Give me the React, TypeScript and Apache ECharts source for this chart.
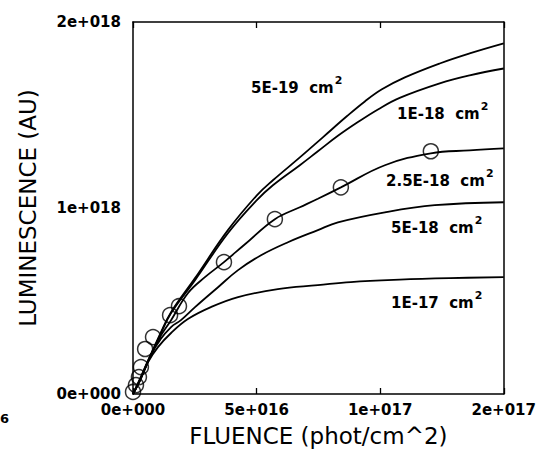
import React, { useEffect, useRef } from "react";
import * as echarts from "echarts";

// Tick values / labels (x axis: the original plot labels 1.5e17 as "2e+017")
const xTickLabels = ["0e+000", "5e+016", "1e+017", "2e+017"];
const yTickLabels = ["0e+000", "1e+018", "2e+018"];

const curveNames = ["5E-19", "1E-18", "2.5E-18", "5E-18", "1E-17"];

const curve5e19: [number, number][] = [
  [0, 0], [0.28e16, 0.75e17], [0.69e16, 2.0e17], [1.09e16, 3.2e17], [1.54e16, 4.4e17],
  [2.51e16, 6.23e17], [3.84e16, 8.81e17], [5.01e16, 10.68e17], [5.66e16, 11.49e17],
  [6.75e16, 12.72e17], [7.68e16, 13.8e17], [8.65e16, 14.93e17], [9.38e16, 15.73e17],
  [10.07e16, 16.38e17], [11.0e16, 17.02e17], [12.41e16, 17.77e17], [13.62e16, 18.31e17],
  [15.0e16, 18.85e17],
];
const curve1e18: [number, number][] = [
  [0, 0], [0.28e16, 0.75e17], [0.69e16, 2.0e17], [1.09e16, 3.15e17], [1.54e16, 4.35e17],
  [2.51e16, 6.12e17], [3.84e16, 8.64e17], [5.01e16, 10.42e17], [5.66e16, 11.22e17],
  [6.75e16, 12.3e17], [7.48e16, 13.05e17], [8.29e16, 13.88e17], [9.1e16, 14.62e17],
  [9.91e16, 15.3e17], [10.79e16, 15.92e17], [12.41e16, 16.7e17], [13.62e16, 17.13e17],
  [15.0e16, 17.5e17],
];
const curve25e18: [number, number][] = [
  [0, 0], [0.28e16, 0.81e17], [0.69e16, 2.04e17], [1.09e16, 3.06e17], [1.54e16, 3.97e17],
  [2.22e16, 5.42e17], [2.91e16, 6.28e17], [3.68e16, 7.09e17], [4.53e16, 8.05e17],
  [5.74e16, 9.4e17], [6.75e16, 10.04e17], [7.48e16, 10.5e17], [8.41e16, 11.11e17],
  [10.19e16, 12.3e17], [12.05e16, 12.94e17], [13.62e16, 13.1e17], [15.0e16, 13.21e17],
];
const curve5e18: [number, number][] = [
  [0, 0], [0.28e16, 0.75e17], [0.69e16, 1.99e17], [1.09e16, 2.9e17], [1.54e16, 3.6e17],
  [1.94e16, 3.97e17], [2.51e16, 4.67e17], [3.44e16, 5.74e17], [4.25e16, 6.66e17],
  [5.18e16, 7.46e17], [6.27e16, 8.16e17], [7.48e16, 8.81e17], [8.29e16, 9.23e17],
  [10.19e16, 9.77e17], [12.21e16, 10.15e17], [15.0e16, 10.31e17],
];
const curve1e17: [number, number][] = [
  [0, 0], [0.28e16, 0.7e17], [0.61e16, 1.72e17], [1.01e16, 2.52e17], [1.54e16, 3.28e17],
  [2.22e16, 4.03e17], [3.15e16, 4.67e17], [4.25e16, 5.21e17], [5.86e16, 5.64e17],
  [7.48e16, 5.85e17], [8.81e16, 6.02e17], [10.79e16, 6.15e17], [12.82e16, 6.23e17],
  [15.0e16, 6.28e17],
];

const measured: [number, number][] = [
  [0, 0.11e17], [0.12e16, 0.48e17], [0.24e16, 0.91e17], [0.32e16, 1.45e17],
  [0.49e16, 2.42e17], [0.81e16, 3.06e17], [1.5e16, 4.24e17], [1.86e16, 4.72e17],
  [3.68e16, 7.09e17], [5.74e16, 9.4e17], [8.41e16, 11.11e17], [12.05e16, 13.05e17],
];

const curves = [curve5e19, curve1e18, curve25e18, curve5e18, curve1e17];

export default function App() {
  const ref = useRef<HTMLDivElement>(null);
  useEffect(() => {
    if (!ref.current) return;
    const chart = echarts.init(ref.current, null, { renderer: "svg" });
    const tickFont = {
      color: "#000",
      fontFamily: "DejaVu Sans",
      fontWeight: "bold" as const,
      fontSize: 15,
    };
    const labelRich = {
      a: { fontFamily: "DejaVu Sans", fontWeight: "bold" as const, fontSize: 15, color: "#000", verticalAlign: "bottom" as const },
      s: { fontFamily: "DejaVu Sans", fontWeight: "bold" as const, fontSize: 11, color: "#000", verticalAlign: "bottom" as const, padding: [0, 0, 9, 1] },
    };
    const labelPos = [
      [251, 86],
      [397, 112],
      [386, 179],
      [391, 226],
      [391, 301],
    ];
    chart.setOption({
      animation: false,
      backgroundColor: "#fff",
      grid: { left: 133, right: 35, top: 22, bottom: 65, containLabel: false },
      xAxis: [
        {
          type: "value",
          min: 0,
          max: 1.5e17,
          interval: 5e16,
          position: "bottom",
          name: "FLUENCE (phot/cm^2)",
          nameLocation: "middle",
          nameGap: 30,
          nameTextStyle: { color: "#000", fontFamily: "DejaVu Sans", fontSize: 23 },
          axisLine: { show: true, lineStyle: { color: "#000", width: 1.5 } },
          axisTick: { show: true, inside: true, length: 6, lineStyle: { color: "#000", width: 1.3 } },
          splitLine: { show: false },
          axisLabel: {
            ...tickFont,
            margin: 8,
            showMinLabel: true,
            showMaxLabel: true,
            formatter: (v: number) => xTickLabels[Math.round(v / 5e16)] ?? "",
          },
        },
        {
          type: "value",
          min: 0,
          max: 1.5e17,
          interval: 5e16,
          position: "top",
          axisLine: { show: true, onZero: false, lineStyle: { color: "#000", width: 1.5 } },
          axisTick: { show: true, inside: true, length: 6, lineStyle: { color: "#000", width: 1.3 } },
          splitLine: { show: false },
          axisLabel: { show: false },
        },
      ],
      yAxis: [
        {
          type: "value",
          min: 0,
          max: 2e18,
          interval: 1e18,
          position: "left",
          name: "LUMINESCENCE (AU)",
          nameLocation: "middle",
          nameRotate: 90,
          nameGap: 94,
          nameTextStyle: { color: "#000", fontFamily: "DejaVu Sans", fontSize: 23 },
          axisLine: { show: true, lineStyle: { color: "#000", width: 1.5 } },
          axisTick: { show: false },
          splitLine: { show: false },
          axisLabel: {
            ...tickFont,
            margin: 12,
            formatter: (v: number) => yTickLabels[Math.round(v / 1e18)] ?? "",
          },
        },
        {
          type: "value",
          min: 0,
          max: 2e18,
          interval: 1e18,
          position: "right",
          axisLine: { show: true, onZero: false, lineStyle: { color: "#000", width: 1.5 } },
          axisTick: { show: false },
          splitLine: { show: false },
          axisLabel: { show: false },
        },
      ],
      series: [
        ...curves.map((d, i) => ({
          name: curveNames[i],
          type: "line",
          data: d,
          smooth: 0.4,
          showSymbol: false,
          lineStyle: { color: "#000", width: 1.8 },
          z: 2,
        })),
        {
          name: "measured",
          type: "scatter",
          data: measured,
          symbol: "circle",
          symbolSize: 15,
          clip: false,
          itemStyle: { color: "transparent", borderColor: "#000", borderWidth: 1.5 },
          z: 3,
        },
      ],
      graphic: [
        ...curveNames.map((n, i) => ({
          type: "text",
          left: labelPos[i][0],
          top: labelPos[i][1] - 11,
          style: {
            text: `{a|${n}  cm}{s|2}`,
            rich: labelRich,
          },
        })),
        {
          type: "text",
          left: 0,
          top: 412,
          style: { text: "6", fontFamily: "DejaVu Sans", fontWeight: "bold", fontSize: 13, fill: "#000" },
        },
      ],
    });
    return () => chart.dispose();
  }, []);
  return (
    <div
      ref={ref}
      style={{ position: "fixed", left: 0, top: 0, width: 539, height: 459, background: "#fff" }}
    />
  );
}
